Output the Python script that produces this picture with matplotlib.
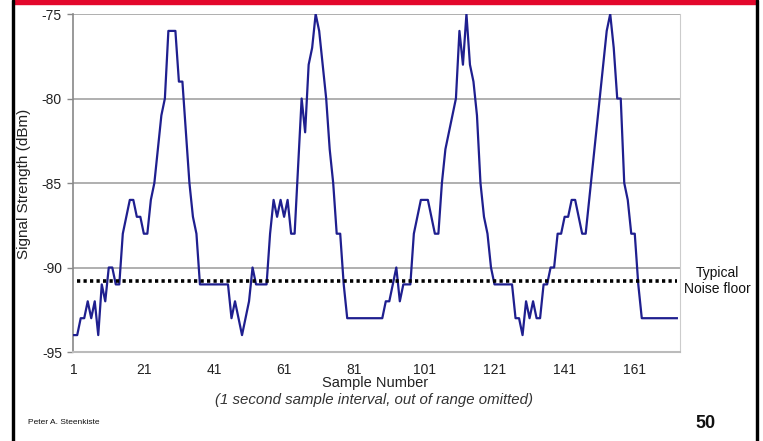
import matplotlib.pyplot as plt
import numpy as np

plt.rcParams['font.family'] = ['Liberation Sans', 'DejaVu Sans']
plt.rcParams['axes.unicode_minus'] = False

# signal strength, one value per sample (dBm)
signal = [
    -94, -94, -93, -93, -92, -93, -92, -94, -91, -92,
    -90, -90, -91, -91, -88, -87, -86, -86, -87, -87,
    -88, -88, -86, -85, -83, -81, -80, -76, -76, -76,
    -79, -79, -82, -85, -87, -88, -91, -91, -91, -91,
    -91, -91, -91, -91, -91, -93, -92, -93, -94, -93,
    -92, -90, -91, -91, -91, -91, -88, -86, -87, -86,
    -87, -86, -88, -88, -84, -80, -82, -78, -77, -75,
    -76, -78, -80, -83, -85, -88, -88, -91, -93, -93,
    -93, -93, -93, -93, -93, -93, -93, -93, -93, -92,
    -92, -91, -90, -92, -91, -91, -91, -88, -87, -86,
    -86, -86, -87, -88, -88, -85, -83, -82, -81, -80,
    -76, -78, -75, -78, -79, -81, -85, -87, -88, -90,
    -91, -91, -91, -91, -91, -91, -93, -93, -94, -92,
    -93, -92, -93, -93, -91, -91, -90, -90, -88, -88,
    -87, -87, -86, -86, -87, -88, -88, -86, -84, -82,
    -80, -78, -76, -75, -77, -80, -80, -85, -86, -88,
    -88, -91, -93, -93, -93, -93, -93, -93, -93, -93,
    -93, -93, -93,
]
samples = np.arange(1, len(signal) + 1)
noise_floor = -90.8

x_ticks = [1, 21, 41, 61, 81, 101, 121, 141, 161]
y_ticks = [-95, -90, -85, -80, -75]

W, H = 763, 441
fig = plt.figure(figsize=(W / 100, H / 100), dpi=100)
fig.patch.set_facecolor('white')

# slide frame: red band on top, black side lines
fig.patches.append(plt.Rectangle((13 / W, 1 - 3.5 / H), 743 / W, 3.5 / H,
                                 transform=fig.transFigure, color='#e3072c', zorder=0))
fig.patches.append(plt.Rectangle((11.5 / W, 0), 2.5 / W, 1,
                                 transform=fig.transFigure, color='black', zorder=0))
fig.patches.append(plt.Rectangle((755.5 / W, 0), 2.5 / W, 1,
                                 transform=fig.transFigure, color='black', zorder=0))

left, right, top, bottom = 73, 680, 14, 352
ax = fig.add_axes([left / W, 1 - bottom / H, (right - left) / W, (bottom - top) / H])

ax.plot(samples, signal, color='#1f1f8f', lw=1.6, zorder=3)
ax.plot([samples[0] + 0.8, samples[-1]], [noise_floor, noise_floor],
        color='black', lw=2.6, linestyle=(0, (0.9, 0.9)), zorder=4)

ax.set_xlim(0.8, 173.9)
ax.set_ylim(-95, -75)
ax.set_xticks(x_ticks)
ax.set_yticks(y_ticks)
ax.tick_params(axis='x', length=0, pad=8, labelsize=10, colors='#222222')
ax.tick_params(axis='y', length=4, width=1, pad=4, labelsize=10,
               colors='#888888', labelcolor='#222222')

for y in y_ticks[1:]:
    ax.axhline(y, color='#9a9a9a', lw=1.1, zorder=1)

ax.spines['left'].set_color('#888888')
ax.spines['left'].set_linewidth(1.2)
ax.spines['bottom'].set_color('#bbbbbb')
ax.spines['bottom'].set_linewidth(1.5)
ax.spines['right'].set_color('#cccccc')
ax.spines['top'].set_visible(False)

fig.text(24 / W, 1 - 184 / H, 'Signal Strength (dBm)', rotation=90,
         ha='center', va='center', fontsize=11, color='#222222')
fig.text(375 / W, 1 - 383 / H, 'Sample Number', ha='center', va='center',
         fontsize=10.5, color='#222222')
fig.text(374 / W, 1 - 400 / H, '(1 second sample interval, out of range omitted)',
         ha='center', va='center', fontsize=10.8, style='italic', color='#333333')
fig.text(717 / W, 1 - 281 / H, 'Typical\nNoise floor', ha='center', va='center',
         fontsize=10, linespacing=1.25, color='#111111')
fig.text(28 / W, 1 - 422 / H, 'Peter A. Steenkiste', ha='left', va='center',
         fontsize=6, color='#111111')
fig.text(705 / W, 1 - 423 / H, '50', ha='center', va='center',
         fontsize=13, weight='bold', color='#111111')

fig.savefig('out.png', dpi=100)
